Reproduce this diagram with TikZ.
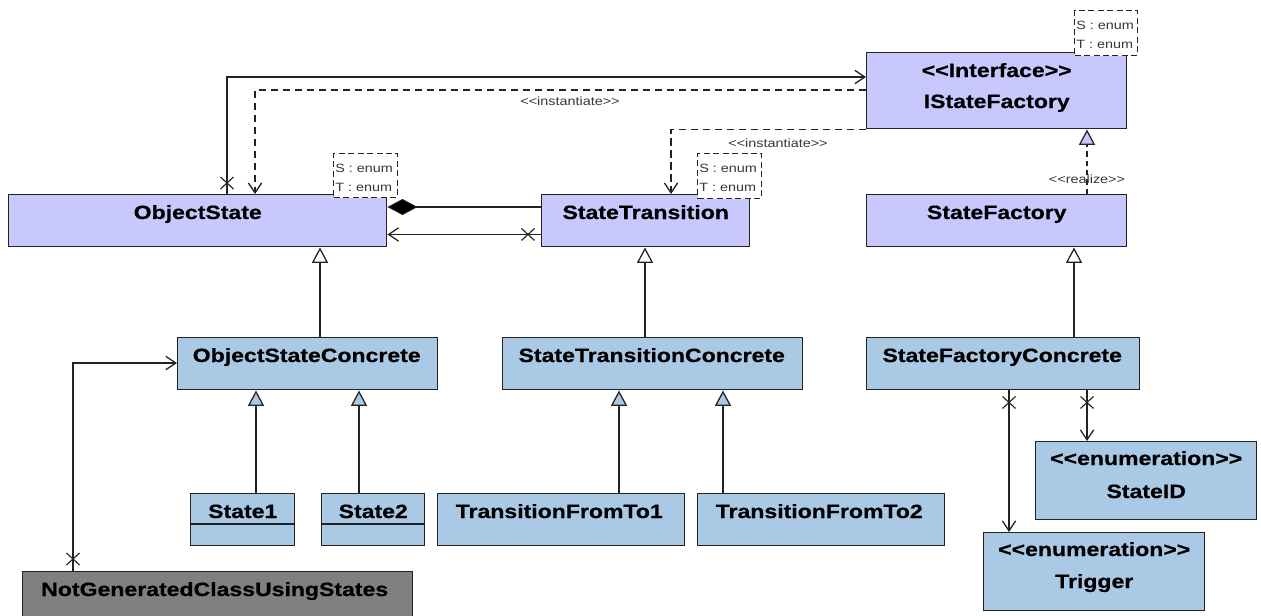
\documentclass[tikz,border=0pt]{standalone}
\usepackage{fontspec}
\setmainfont{Liberation Sans}[Ligatures=TeXOff]
\newfontfamily\umlfont{Liberation Sans}[FakeStretch=1.2,Ligatures=TeXOff,BoldFeatures={FakeBold=0.6}]
\usetikzlibrary{arrows.meta,calc}

\definecolor{lav}{RGB}{200,200,255}
\definecolor{cblue}{RGB}{169,201,228}
\definecolor{cgray}{RGB}{128,128,128}
\definecolor{linec}{RGB}{35,35,35}
\definecolor{smalltxt}{RGB}{55,55,55}

\tikzset{
  cls/.style={draw=linec, line width=1.1pt, inner sep=0pt, anchor=north west},
  ttl/.style={anchor=base, inner sep=0pt, font=\umlfont\bfseries\fontsize{14.4}{17}\selectfont},
  small/.style={inner sep=0pt, text=smalltxt, font=\umlfont\fontsize{9}{10}\selectfont},
  tmpl/.style={draw=linec, fill=white, line width=0.9pt, dash pattern=on 4.5pt off 2.6pt, inner sep=0pt, anchor=north west},
  conn/.style={draw=linec, line width=0.95pt},
  assoc/.style={conn, -{Straight Barb[length=7.5pt,width=10pt,line width=0.95pt]}},
  dep/.style={assoc, dash pattern=on 5.5pt off 3.5pt},
  gen/.style={conn, -{Triangle[length=11.5pt,width=12pt,fill=#1,line width=0.95pt]}},
  real/.style={gen=#1, dash pattern=on 4pt off 3pt},
  comp/.style={conn, -{Diamond[length=22.5pt,width=12pt,fill=black,line width=0.6pt]}},
  xm/.style={draw=linec, line width=0.85pt},
}

% class box: fill, name, x1, y1, x2, y2 (pixel grid)
\newcommand\clsbox[6]{%
  \node[cls, fill=#1, minimum width={(#5-#3)*0.75pt}, minimum height={(#6-#4)*0.75pt}] (#2) at (#3,#4) {};}
% template-parameter box: name, x1, y1, x2, y2
\newcommand\tmplbox[5]{%
  \node[tmpl, minimum width={(#4-#2)*0.75pt}, minimum height={(#5-#3)*0.75pt}] (#1) at (#2,#3) {};
  \node[small, anchor=base west] (#1-s) at ($(#1.north west)+(2,19)$) {S : enum};
  \node[small, anchor=base west] (#1-t) at ($(#1.north west)+(2,38)$) {T : enum};}

\begin{document}
\begin{tikzpicture}[x=0.75pt, y=-0.75pt]
\path[use as bounding box, fill=white] (0,0) rectangle (1261,615);

% ---------- classes ----------
\clsbox{lav}{isf}{866}{52}{1126}{128}
\clsbox{lav}{os}{8}{194}{386}{246}
\clsbox{lav}{st}{541}{194}{749}{246}
\clsbox{lav}{sf}{866}{194}{1126}{246}
\clsbox{cblue}{osc}{177}{337}{437}{389}
\clsbox{cblue}{stc}{502}{337}{802}{389}
\clsbox{cblue}{sfc}{866}{337}{1139}{389}
\clsbox{cblue}{s1}{190}{493}{294}{545}
\clsbox{cblue}{s2}{321}{493}{424}{545}
\clsbox{cblue}{tft1}{437}{493}{684}{545}
\clsbox{cblue}{tft2}{697}{493}{944}{545}
\clsbox{cblue}{sid}{1035}{441}{1256}{519}
\clsbox{cblue}{trg}{983}{532}{1204}{610}
\clsbox{cgray}{ng}{22}{571}{412}{632}

% attribute compartments of the state classes
\draw[draw=linec, line width=1.1pt] ($(s1.north west)+(0,31)$) -- ($(s1.north east)+(0,31)$);
\draw[draw=linec, line width=1.1pt] ($(s2.north west)+(0,31)$) -- ($(s2.north east)+(0,31)$);

% ---------- class names ----------
\node[ttl] (isf-a) at ($(isf.north)+(0,25)$) {<<Interface>>};
\node[ttl] (isf-b) at ($(isf.north)+(0,56)$) {IStateFactory};
\node[ttl] (os-n) at ($(os.north)+(0,25)$) {ObjectState};
\node[ttl] (st-n) at ($(st.north)+(0,25)$) {StateTransition};
\node[ttl] (sf-n) at ($(sf.north)+(0,25)$) {StateFactory};
\node[ttl] (osc-n) at ($(osc.north)+(-1,25)$) {ObjectStateConcrete};
\node[ttl] (stc-n) at ($(stc.north)+(-1,25)$) {StateTransitionConcrete};
\node[ttl] (sfc-n) at ($(sfc.north)+(-1,25)$) {StateFactoryConcrete};
\node[ttl] (s1-n) at ($(s1.north)+(0,25)$) {State1};
\node[ttl] (s2-n) at ($(s2.north)+(0,25)$) {State2};
\node[ttl] (tft1-n) at ($(tft1.north)+(-2,25)$) {TransitionFromTo1};
\node[ttl] (tft2-n) at ($(tft2.north)+(-2,25)$) {TransitionFromTo2};
\node[ttl] (sid-a) at ($(sid.north)+(0,24)$) {<<enumeration>>};
\node[ttl] (sid-b) at ($(sid.north)+(0,57)$) {StateID};
\node[ttl] (trg-a) at ($(trg.north)+(0,24)$) {<<enumeration>>};
\node[ttl] (trg-b) at ($(trg.north)+(0,56)$) {Trigger};
\node[ttl] (ng-n) at ($(ng.north)+(-3,25)$) {NotGeneratedClassUsingStates};

% ---------- connectors ----------
% ObjectState -> IStateFactory (navigable association)
\draw[assoc] ($(os.north west)+(219,0)$) |- ($(isf.north west)+(0,25)$);
\coordinate (x-os) at ($(os.north west)+(219,-11)$);
% instantiate dependencies
\draw[dep] ($(isf.north west)+(0,38)$) -| ($(os.north west)+(247,0)$);
\node[small, anchor=base] (inst1) at (570,105) {<<instantiate>>};
\draw[dep] (isf.south west) -| ($(st.north west)+(130,0)$);
\node[small, anchor=base] (inst2) at (778,147.5) {<<instantiate>>};
% composition and association between StateTransition and ObjectState
\draw[comp] ($(st.north west)+(0,13)$) -- ($(os.north east)+(0,13)$);
\draw[assoc] ($(st.south west)+(0,-13)$) -- ($(os.south east)+(0,-13)$);
\coordinate (x-st) at ($(st.south west)+(-13,-13)$);
% realization
\draw[real=lav] ($(sf.north west)+(221,0)$) -- ($(isf.south west)+(221,0)$);
\node[small, anchor=base] (rlz) at (1087,183) {<<realize>>};
% generalizations
\draw[gen=white] ($(osc.north west)+(143,0)$) -- ($(os.south west)+(312,0)$);
\draw[gen=white] ($(stc.north west)+(143,0)$) -- ($(st.south west)+(104,0)$);
\draw[gen=white] ($(sfc.north west)+(208,0)$) -- ($(sf.south west)+(208,0)$);
\draw[gen=cblue] ($(s1.north west)+(66,0)$) -- ($(osc.south west)+(79,0)$);
\draw[gen=cblue] ($(s2.north west)+(38,0)$) -- ($(osc.south west)+(182,0)$);
\draw[gen=cblue] ($(tft1.north west)+(182,0)$) -- ($(stc.south west)+(117,0)$);
\draw[gen=cblue] ($(tft2.north west)+(26,0)$) -- ($(stc.south west)+(221,0)$);
% NotGeneratedClassUsingStates -> ObjectStateConcrete
\draw[assoc] ($(ng.north west)+(51,0)$) |- ($(osc.north west)+(0,26)$);
\coordinate (x-ng) at ($(ng.north west)+(51,-12)$);
% StateFactoryConcrete -> enumerations
\draw[assoc] ($(sfc.south west)+(143,0)$) -- ($(trg.north west)+(26,0)$);
\coordinate (x-trg) at ($(sfc.south west)+(143,12)$);
\draw[assoc] ($(sfc.south west)+(221,0)$) -- ($(sid.north west)+(52,0)$);
\coordinate (x-sid) at ($(sfc.south west)+(221,12)$);

% non-navigable ends
\foreach \c in {x-os,x-st,x-ng,x-trg,x-sid}
  \draw[xm] (\c) +(-6.5,-6) -- +(6.5,6) +(-6.5,6) -- +(6.5,-6);

% ---------- template parameters ----------
\tmplbox{tisf}{1074}{10}{1137}{55}
\tmplbox{tos}{333}{153}{397}{197}
\tmplbox{tst}{697}{153}{761}{198}
\end{tikzpicture}
\end{document}
